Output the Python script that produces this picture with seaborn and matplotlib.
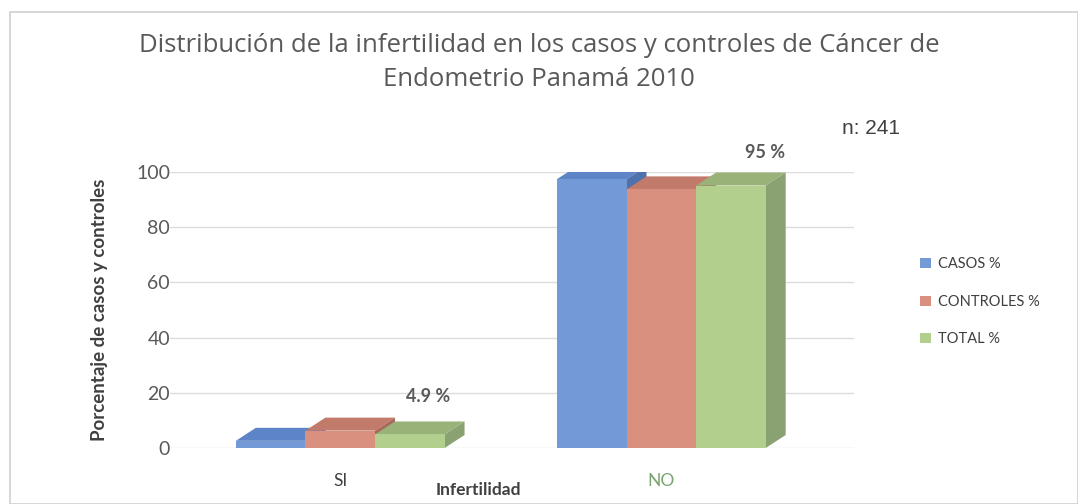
import numpy as np
import pandas as pd
import matplotlib
matplotlib.use("Agg")
import matplotlib.pyplot as plt
from matplotlib.patches import Polygon, Rectangle
import seaborn as sns

# ---------------- data ----------------
categories = ["SI", "NO"]
series = ["CASOS %", "CONTROLES %", "TOTAL %"]
casos = [2.6, 97.4]
controles = [6.3, 93.7]
total = [4.9, 95.1]
total_labels = ["4.9 %", "95 %"]
y_ticks = [0, 20, 40, 60, 80, 100]

df = pd.DataFrame({
    "Infertilidad": categories * 3,
    "serie": [s for s in series for _ in categories],
    "valor": casos + controles + total,
})

front_cols = ["#7399d6", "#d9907f", "#b3cf8e"]
top_cols = ["#5d84c6", "#c27a6a", "#98b277"]
side_cols = ["#4f72ad", "#a9695b", "#8aa172"]

sns.set_theme(style="white")
plt.rcParams["font.family"] = ["Lato", "DejaVu Sans"]

DPI = 100
fig = plt.figure(figsize=(10.78, 5.04), dpi=DPI)
fig.patch.set_facecolor("white")
ax = fig.add_axes([170 / 1078, 56 / 504, 684 / 1078, 276 / 504])

sns.barplot(data=df, x="Infertilidad", y="valor", hue="serie", order=categories,
            hue_order=series, palette=front_cols, width=0.65, saturation=1,
            edgecolor="none", ax=ax, legend=True)

ax.set_xlim(-0.53, 1.6)
ax.set_ylim(0, 100)
ax.set_yticks(y_ticks)
ax.set_yticklabels([str(t) for t in y_ticks], fontsize=14, color="#595959")
ax.tick_params(axis="y", length=0, pad=0)
ax.tick_params(axis="x", length=0, pad=18)
ax.set_xticks([0, 1])
ax.set_xticklabels(categories, fontsize=12.5)
ax.get_xticklabels()[0].set_color("#404040")
ax.get_xticklabels()[1].set_color("#76a36e")
ax.set_xlabel("")
ax.set_ylabel("Porcentaje de casos y controles", fontsize=13.5, fontweight="bold",
              color="#404040", labelpad=20)
for s in ax.spines.values():
    s.set_visible(False)
ax.yaxis.grid(True, color="#dcdcdc", linewidth=1)
ax.set_axisbelow(True)

# ---------------- pseudo 3D faces derived from the bars ----------------
fig.canvas.draw()
DX, DY = 20, 13  # depth offset in pixels
bars = [p for p in ax.patches if isinstance(p, Rectangle) and p.get_width() > 0]

def series_index(p):
    fc = matplotlib.colors.to_hex(p.get_facecolor())
    return [c.lower() for c in front_cols].index(fc.lower())

bars_sorted = sorted(bars, key=lambda p: p.get_x())
base_z = 3
for i, p in enumerate(bars_sorted):
    k = series_index(p)
    x0, w, h = p.get_x(), p.get_width(), p.get_height()
    (ax0, ay0) = ax.transData.transform((x0, 0))
    (ax1, ay1) = ax.transData.transform((x0 + w, h))
    top = Polygon([(ax0, ay1), (ax1, ay1), (ax1 + DX, ay1 + DY), (ax0 + DX, ay1 + DY)],
                  closed=True, transform=None, facecolor=top_cols[k], edgecolor="none",
                  zorder=base_z + 3 * i)
    side = Polygon([(ax1, ay0), (ax1 + DX, ay0 + DY), (ax1 + DX, ay1 + DY), (ax1, ay1)],
                   closed=True, transform=None, facecolor=side_cols[k], edgecolor="none",
                   zorder=base_z + 3 * i + 1)
    ax.add_artist(top)
    ax.add_artist(side)
    p.set_zorder(base_z + 3 * i + 2)

# data labels for TOTAL
tot_bars = sorted([p for p in bars if series_index(p) == 2], key=lambda p: p.get_x())
for p, lab, dx, dy in zip(tot_bars, total_labels, [18, 34], [38, 33]):
    ax.annotate(lab, xy=(p.get_x() + p.get_width() / 2, p.get_height()),
                xytext=(dx, dy), textcoords="offset pixels", ha="center",
                va="center", fontsize=13, fontweight="bold", color="#595959",
                zorder=50)

# legend
handles, labels = ax.get_legend_handles_labels()
ax.legend(handles, labels, loc="center left", bbox_to_anchor=(1.078, 0.53),
          frameon=False, fontsize=10.5, handlelength=0.7, handleheight=0.7,
          labelspacing=1.6, handletextpad=0.5, labelcolor="#404040")

# texts
fig.text(0.5, 1 - 45 / 504, "Distribución de la infertilidad en los casos y controles de Cáncer de",
         ha="center", va="center", fontsize=18.5, color="#595959",
         family=["Open Sans", "DejaVu Sans"])
fig.text(0.5, 1 - 80 / 504, "Endometrio Panamá 2010",
         ha="center", va="center", fontsize=18.5, color="#595959",
         family=["Open Sans", "DejaVu Sans"])
fig.text(871 / 1078, 1 - 128 / 504, "n: 241", ha="center", va="center",
         fontsize=15, color="#404040", family=["Liberation Sans", "DejaVu Sans"])
fig.text(478 / 1078, 1 - 490 / 504, "Infertilidad", ha="center", va="center",
         fontsize=12.5, fontweight="bold", color="#404040")

# chart frame
fig.patches.append(Rectangle((10 / 1078, 0.0), 1 - 10 / 1078, 1 - 12 / 504,
                             transform=fig.transFigure, fill=False,
                             edgecolor="#d0d0d0", linewidth=1.2))

fig.savefig("out.png", dpi=DPI)
